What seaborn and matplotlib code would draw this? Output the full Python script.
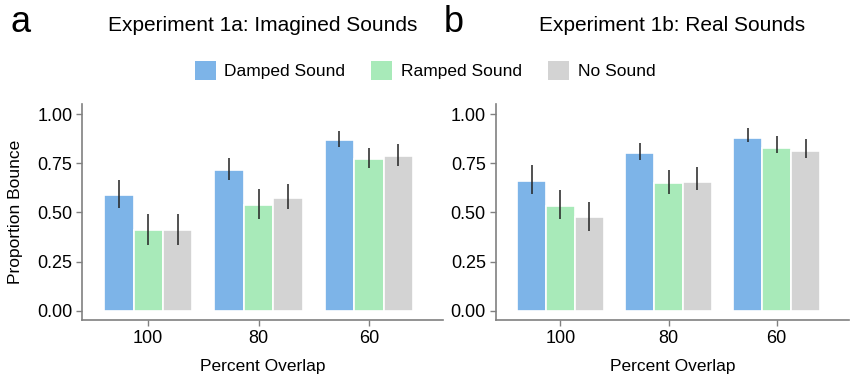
import pandas as pd
import matplotlib
matplotlib.use("Agg")
import matplotlib.pyplot as plt
import seaborn as sns
from matplotlib.patches import Patch

overlap = ["100", "80", "60"]
conditions = ["Damped Sound", "Ramped Sound", "No Sound"]

# Experiment 1a: Imagined Sounds
imag_mean = {
    "Damped Sound": [0.588, 0.718, 0.871],
    "Ramped Sound": [0.409, 0.538, 0.772],
    "No Sound": [0.413, 0.575, 0.789],
}
imag_low = {
    "Damped Sound": [0.521, 0.667, 0.835],
    "Ramped Sound": [0.333, 0.465, 0.728],
    "No Sound": [0.336, 0.519, 0.738],
}
imag_high = {
    "Damped Sound": [0.666, 0.779, 0.915],
    "Ramped Sound": [0.492, 0.618, 0.828],
    "No Sound": [0.492, 0.643, 0.849],
}

# Experiment 1b: Real Sounds
real_mean = {
    "Damped Sound": [0.662, 0.805, 0.881],
    "Ramped Sound": [0.535, 0.649, 0.829],
    "No Sound": [0.477, 0.657, 0.813],
}
real_low = {
    "Damped Sound": [0.596, 0.766, 0.859],
    "Ramped Sound": [0.469, 0.593, 0.800],
    "No Sound": [0.406, 0.613, 0.779],
}
real_high = {
    "Damped Sound": [0.741, 0.854, 0.932],
    "Ramped Sound": [0.615, 0.715, 0.888],
    "No Sound": [0.555, 0.730, 0.874],
}

palette = {"Damped Sound": "#7db4e8", "Ramped Sound": "#a8eab9", "No Sound": "#d3d3d3"}
axis_gray = "#808080"


def to_long(means):
    rows = []
    for cond in conditions:
        for ov, val in zip(overlap, means[cond]):
            rows.append({"overlap": ov, "condition": cond, "prop": val})
    return pd.DataFrame(rows)


def draw_panel(ax, means, low, high, title):
    df = to_long(means)
    sns.barplot(data=df, x="overlap", y="prop", hue="condition",
                order=overlap, hue_order=conditions, palette=palette,
                errorbar=None, edgecolor="white", linewidth=1.2,
                saturation=1, legend=False, ax=ax)
    # асимметричные доверительные интервалы
    for cond, container in zip(conditions, ax.containers):
        for bar, lo, hi in zip(container, low[cond], high[cond]):
            xc = bar.get_x() + bar.get_width() / 2
            ax.vlines(xc, lo, hi, color="#222222", linewidth=1.1, zorder=3)

    ax.set_xlim(-0.6, 2.67)
    ax.set_ylim(-0.047, 1.052)
    ax.set_yticks([0, 0.25, 0.5, 0.75, 1.0])
    ax.set_yticklabels(["0.00", "0.25", "0.50", "0.75", "1.00"])
    ax.set_xlabel("Percent Overlap", fontsize=12.5, labelpad=9)
    for side in ["top", "right"]:
        ax.spines[side].set_visible(False)
    for side in ["left", "bottom"]:
        ax.spines[side].set_color(axis_gray)
        ax.spines[side].set_linewidth(1.2)
    ax.tick_params(bottom=True, left=True, colors=axis_gray, labelcolor="black",
                   labelsize=13, length=4, width=1, pad=3)
    ax.grid(False)
    ax.text(0.5, 1.365, title, transform=ax.transAxes, fontsize=15,
            ha="center", va="center")
    return ax


sns.set_theme(style="white")
plt.rcParams["font.family"] = ["Liberation Sans", "DejaVu Sans"]
plt.rcParams["text.color"] = "black"
plt.rcParams["axes.labelcolor"] = "black"

fig = plt.figure(figsize=(8.5, 3.79), dpi=100)
ax1 = fig.add_axes([0.0965, 0.1557, 0.4245, 0.57])
ax2 = fig.add_axes([0.583, 0.1557, 0.416, 0.57])

draw_panel(ax1, imag_mean, imag_low, imag_high, "Experiment 1a: Imagined Sounds")
draw_panel(ax2, real_mean, real_low, real_high, "Experiment 1b: Real Sounds")

ax1.set_ylabel("Proportion Bounce", fontsize=12.5, labelpad=10)
ax2.set_ylabel("")

fig.text(0.012, 0.94, "a", fontsize=26, va="center", ha="left")
fig.text(0.522, 0.94, "b", fontsize=26, va="center", ha="left")

handles = [Patch(facecolor=palette[c], edgecolor="none", label=c) for c in conditions]
fig.legend(handles=handles, loc="center", bbox_to_anchor=(0.5, 0.815), ncol=3,
           frameon=False, fontsize=12.5, handlelength=1.2, handleheight=1.3,
           handletextpad=0.5, columnspacing=1.5)

fig.savefig("out.png", dpi=100)
plt.close(fig)
